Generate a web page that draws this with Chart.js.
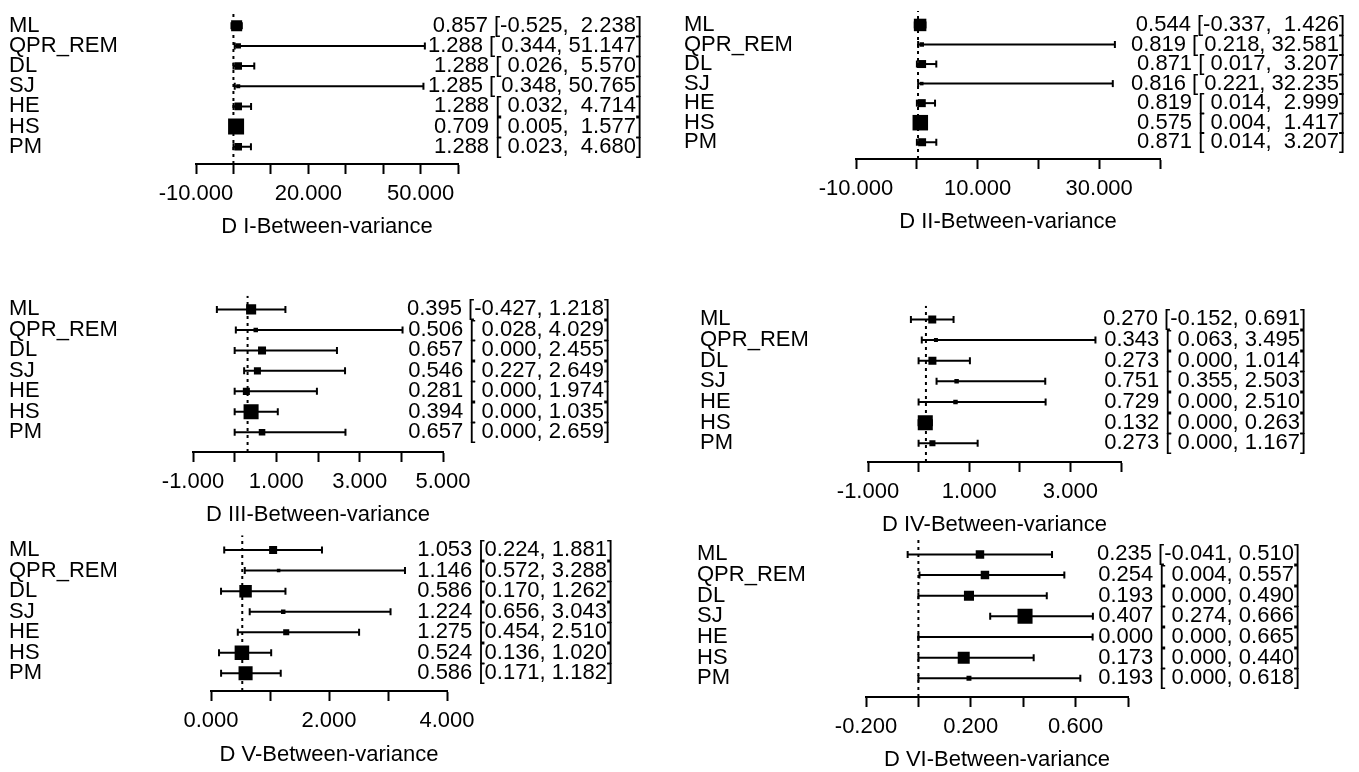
<!DOCTYPE html>
<html lang="en">
<head>
<meta charset="UTF-8" />
<title>Between-variance estimators</title>
<script src="https://cdn.jsdelivr.net/npm/chart.js"></script>
<style>
  html, body { margin: 0; padding: 0; background: #fff; }
  body { width: 1359px; height: 772px; position: relative; overflow: hidden; }
  canvas { position: absolute; }
</style>
</head>
<body>
<script>
// estimators, top row of every panel first
const methods = ['ML', 'QPR_REM', 'DL', 'SJ', 'HE', 'HS', 'PM'];

// D I
const estD1 = [0.857, 1.288, 1.288, 1.285, 1.288, 0.709, 1.288];
const loD1 = [-0.525, 0.344, 0.026, 0.348, 0.032, 0.005, 0.023];
const hiD1 = [2.238, 51.147, 5.570, 50.765, 4.714, 1.577, 4.680];
const wtD1 = [0.69, 0.34, 0.47, 0.25, 0.47, 1.00, 0.47];
// D II
const estD2 = [0.544, 0.819, 0.871, 0.816, 0.819, 0.575, 0.871];
const loD2 = [-0.337, 0.218, 0.017, 0.221, 0.014, 0.004, 0.014];
const hiD2 = [1.426, 32.581, 3.207, 32.235, 2.999, 1.417, 3.207];
const wtD2 = [0.78, 0.28, 0.50, 0.22, 0.50, 0.97, 0.50];
// D III
const estD3 = [0.395, 0.506, 0.657, 0.546, 0.281, 0.394, 0.657];
const loD3 = [-0.427, 0.028, 0.000, 0.227, 0.000, 0.000, 0.000];
const hiD3 = [1.218, 4.029, 2.455, 2.649, 1.974, 1.035, 2.659];
const wtD3 = [0.63, 0.28, 0.50, 0.44, 0.44, 0.94, 0.41];
// D IV
const estD4 = [0.270, 0.343, 0.273, 0.751, 0.729, 0.132, 0.273];
const loD4 = [-0.152, 0.063, 0.000, 0.355, 0.000, 0.000, 0.000];
const hiD4 = [0.691, 3.495, 1.014, 2.503, 2.510, 0.263, 1.167];
const wtD4 = [0.50, 0.25, 0.50, 0.28, 0.28, 0.94, 0.38];
// D V
const estD5 = [1.053, 1.146, 0.586, 1.224, 1.275, 0.524, 0.586];
const loD5 = [0.224, 0.572, 0.170, 0.656, 0.454, 0.136, 0.171];
const hiD5 = [1.881, 3.288, 1.262, 3.043, 2.510, 1.020, 1.182];
const wtD5 = [0.50, 0.22, 0.78, 0.28, 0.38, 0.91, 0.88];
// D VI
const estD6 = [0.235, 0.254, 0.193, 0.407, 0.000, 0.173, 0.193];
const loD6 = [-0.041, 0.004, 0.000, 0.274, 0.000, 0.000, 0.000];
const hiD6 = [0.510, 0.557, 0.490, 0.666, 0.665, 0.440, 0.618];
const wtD6 = [0.53, 0.53, 0.63, 0.94, 0.16, 0.75, 0.31];

// dotted reference value of each panel
const refD = [0, 0.2, 0.31, 0.145, 0.53, 0];

// axis [min, max, step] and the ticks that carry a label
const axisD = [[-10, 60, 10], [-10, 40, 10], [-1, 5, 1], [-1, 4, 1], [0, 4, 1], [-0.2, 0.8, 0.2]];
const tickD = [[-10, 20, 50], [-10, 10, 30], [-1, 1, 3, 5], [-1, 1, 3], [0, 2, 4], [-0.2, 0.2, 0.6]];

const titles = ['D I-Between-variance', 'D II-Between-variance', 'D III-Between-variance',
                'D IV-Between-variance', 'D V-Between-variance', 'D VI-Between-variance'];

// page layout of each panel (pixels)
const layouts = [
    { col: 0,   axisL: 196, axisR: 458,  axisY: 164, plotTop: 5,   rowTop: 20,  rowBot: 146, titleY: 227, labelX: 9,   textR: 642 },
    { col: 680, axisL: 856, axisR: 1160, axisY: 159, plotTop: 0,   rowTop: 15,  rowBot: 141, titleY: 222, labelX: 684, textR: 1345 },
    { col: 0,   axisL: 193, axisR: 443,  axisY: 452, plotTop: 293, rowTop: 307, rowBot: 432, titleY: 515, labelX: 9,   textR: 610 },
    { col: 680, axisL: 868, axisR: 1121, axisY: 462, plotTop: 303, rowTop: 317, rowBot: 443, titleY: 525, labelX: 700, textR: 1306 },
    { col: 0,   axisL: 211, axisR: 447,  axisY: 691, plotTop: 533, rowTop: 548, rowBot: 673, titleY: 755, labelX: 9,   textR: 613 },
    { col: 680, axisL: 866, axisR: 1128, axisY: 697, plotTop: 537, rowTop: 552, rowBot: 678, titleY: 760, labelX: 697, textR: 1300 }
];

const panels = [
    { est: estD1, lo: loD1, hi: hiD1, wt: wtD1 },
    { est: estD2, lo: loD2, hi: hiD2, wt: wtD2 },
    { est: estD3, lo: loD3, hi: hiD3, wt: wtD3 },
    { est: estD4, lo: loD4, hi: hiD4, wt: wtD4 },
    { est: estD5, lo: loD5, hi: hiD5, wt: wtD5 },
    { est: estD6, lo: loD6, hi: hiD6, wt: wtD6 }
];

const FONT = "'Liberation Sans', Arial, sans-serif";
const MAX_BOX = 16;

// "0.857 [-0.525,  2.238]" the way the forest plot pads its columns
function ciLabels(p) {
    const lo = p.lo.map(v => v.toFixed(3));
    const hi = p.hi.map(v => v.toFixed(3));
    const loW = Math.max(...lo.map(s => s.length));
    const hiW = Math.max(...hi.map(s => s.length));
    return p.est.map((v, i) => `${v.toFixed(3)} [${lo[i].padStart(loW)}, ${hi[i].padStart(hiW)}]`);
}

panels.forEach((p, k) => {
    const L = layouts[k];
    const top = Math.max(0, L.plotTop - 8);
    const bottom = Math.min(772, L.titleY + 14);
    const width = 679;
    const height = bottom - top;

    const canvas = document.createElement('canvas');
    canvas.width = width;
    canvas.height = height;
    canvas.style.left = L.col + 'px';
    canvas.style.top = top + 'px';
    canvas.style.width = width + 'px';
    canvas.style.height = height + 'px';
    document.body.appendChild(canvas);

    const rows = methods.map((m, i) => methods.length - i);
    const step = (L.rowBot - L.rowTop) / (methods.length - 1);
    const yMin = 1 - (L.axisY - L.rowBot) / step;
    const yMax = methods.length + (L.rowTop - L.plotTop) / step;
    const texts = ciLabels(p);
    const labelled = tickD[k];

    const boxes = {
        data: p.est.map((v, i) => ({ x: v, y: rows[i] })),
        showLine: false,
        pointStyle: 'rect',
        pointRadius: (c) => MAX_BOX * p.wt[c.dataIndex] / Math.SQRT2,
        pointBackgroundColor: '#000',
        pointBorderWidth: 0
    };
    const ciLines = methods.map((m, i) => ({
        data: [{ x: p.lo[i], y: rows[i] }, { x: p.hi[i], y: rows[i] }],
        showLine: true,
        borderColor: '#000',
        borderWidth: 2,
        pointStyle: 'line',
        pointRotation: 90,
        pointRadius: 3.5,
        pointBorderColor: '#000',
        pointBorderWidth: 2
    }));
    const refLine = {
        data: [{ x: refD[k], y: yMin }, { x: refD[k], y: yMax }],
        showLine: true,
        borderColor: '#000',
        borderWidth: 2,
        borderDash: [3, 4],
        pointRadius: 0
    };

    new Chart(canvas, {
        type: 'scatter',
        data: { datasets: [boxes, ...ciLines, refLine] },
        options: {
            responsive: false,
            animation: false,
            devicePixelRatio: 1,
            events: [],
            layout: {
                padding: { left: L.axisL - L.col, right: L.col + width - L.axisR, top: L.plotTop - top, bottom: 0 }
            },
            plugins: { legend: { display: false }, tooltip: { enabled: false } },
            scales: {
                x: {
                    type: 'linear',
                    min: axisD[k][0],
                    max: axisD[k][1],
                    afterFit: (s) => { s.height = bottom - L.axisY; },
                    ticks: {
                        stepSize: axisD[k][2],
                        autoSkip: false,
                        maxRotation: 0,
                        minRotation: 0,
                        padding: 9,
                        color: '#000',
                        font: { family: FONT, size: 22, lineHeight: 1 },
                        callback: (v) => labelled.some(t => Math.abs(t - v) < 1e-9) ? Number(v).toFixed(3) : ''
                    },
                    grid: {
                        display: true,
                        drawOnChartArea: false,
                        drawTicks: true,
                        tickLength: 10,
                        tickWidth: 2,
                        tickColor: '#000'
                    },
                    border: { display: true, color: '#000', width: 2 },
                    title: {
                        display: true,
                        text: titles[k],
                        color: '#000',
                        font: { family: FONT, size: 22, lineHeight: 1 },
                        padding: { top: 0, bottom: Math.max(0, bottom - L.titleY - 11) }
                    }
                },
                y: { type: 'linear', display: false, min: yMin, max: yMax }
            }
        },
        plugins: [{
            id: 'rowText',
            afterDraw(chart) {
                const ctx = chart.ctx;
                const ys = chart.scales.y;
                ctx.save();
                ctx.font = '22px ' + FONT;
                ctx.fillStyle = '#000';
                ctx.textBaseline = 'middle';
                methods.forEach((m, i) => {
                    const y = ys.getPixelForValue(rows[i]);
                    ctx.textAlign = 'left';
                    ctx.fillText(m, L.labelX - L.col, y);
                    ctx.textAlign = 'right';
                    ctx.fillText(texts[i], L.textR - L.col, y);
                });
                ctx.restore();
            }
        }]
    });
});
</script>
</body>
</html>
